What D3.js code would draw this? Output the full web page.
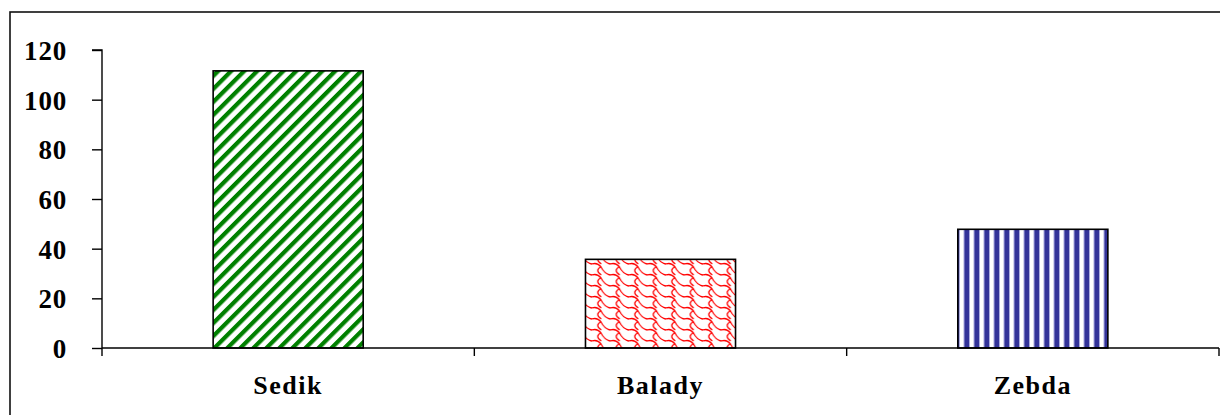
<!DOCTYPE html>
<html>
<head>
<meta charset="utf-8">
<script src="https://cdn.jsdelivr.net/npm/d3@7"></script>
<style>
html,body{margin:0;padding:0;background:#fff;overflow:hidden;}
svg{display:block;}
text{font-family:"Liberation Serif","Times New Roman",serif;font-weight:bold;fill:#000;}
</style>
</head>
<body>
<svg id="chart" width="1220" height="415"></svg>
<script>
const categories = ["Sedik", "Balady", "Zebda"];
const values = [111.6, 35.7, 47.8];
const patterns = ["pGreen", "pRed", "pBlue"];
const yTicks = [0, 20, 40, 60, 80, 100, 120];

const svg = d3.select("#chart");
const defs = svg.append("defs");

// green diagonal stripes
const pg = defs.append("pattern").attr("id","pGreen").attr("patternUnits","userSpaceOnUse")
  .attr("width",9.2).attr("height",9.2).attr("patternTransform","rotate(45)");
pg.append("rect").attr("width",9.2).attr("height",9.2).attr("fill","#fff");
pg.append("rect").attr("x",0).attr("width",4.2).attr("height",9.2).attr("fill","#008000");

// red shingle pattern
const PW = 18.5, PH = 11;
const pr = defs.append("pattern").attr("id","pRed").attr("patternUnits","userSpaceOnUse")
  .attr("width",PW).attr("height",PH);
pr.append("rect").attr("width",PW).attr("height",PH).attr("fill","#fff");
[[0,0],[PW,0],[-PW,0],[0,PH],[0,-PH],[PW,PH],[-PW,-PH],[PW,-PH],[-PW,PH]].forEach(([dx,dy]) => {
  pr.append("path")
    .attr("transform",`translate(${dx},${dy})`)
    .attr("d","M0,0 C4,-1.5 7,0.5 9,3 L10.5,5.5 C12.5,8.5 15.5,10.5 18.5,11 M9,3 C6,4 5,6.5 6.5,8.5 C7.5,9.5 8.5,10.5 9.2,11")
    .attr("fill","none").attr("stroke","#ff0000").attr("stroke-width",1.3);
});

// blue vertical stripes
const pb = defs.append("pattern").attr("id","pBlue").attr("patternUnits","userSpaceOnUse")
  .attr("width",10).attr("height",10).attr("x",2);
pb.append("rect").attr("width",10).attr("height",10).attr("fill","#fff");
pb.append("rect").attr("x",1.5).attr("width",6.5).attr("height",10).attr("fill","#aaaadd");
pb.append("rect").attr("x",2.5).attr("width",4.5).attr("height",10).attr("fill","#333399");

// outer frame
svg.append("rect").attr("x",10).attr("y",12).attr("width",1400).attr("height",600)
  .attr("fill","none").attr("stroke","#111").attr("stroke-width",1.6);

const x0 = 102, x1 = 1219, yBottom = 348, yTop = 50;
const x = d3.scaleBand().domain(categories).range([x0, x1]).paddingInner(0.597).paddingOuter(0.2985);
const xb = d3.scaleBand().domain(categories).range([x0, x1]);
const y = d3.scaleLinear().domain([0,120]).range([yBottom, yTop]);

// bars
svg.append("g").selectAll("rect").data(categories).join("rect")
  .attr("x", d => x(d))
  .attr("y", (d,i) => y(values[i]))
  .attr("width", x.bandwidth())
  .attr("height", (d,i) => y(0) - y(values[i]))
  .attr("fill", (d,i) => `url(#${patterns[i]})`)
  .attr("stroke","#000").attr("stroke-width",1.6);

// y axis
const yAxis = d3.axisLeft(y).tickValues(yTicks).tickSize(10).tickPadding(25).tickFormat(d3.format("d"));
const gy = svg.append("g").attr("transform",`translate(${x0},0)`).call(yAxis);
gy.attr("font-family",null).attr("font-size",null);
gy.select(".domain").attr("stroke","#000").attr("stroke-width",1.4).attr("d",`M-10,${yTop}H0V${yBottom}`);
gy.selectAll(".tick line").attr("stroke","#000").attr("stroke-width",1.4);
gy.selectAll(".tick text").style("font-size","27px").attr("letter-spacing","0.8px").attr("dy","0.35em")
  .style("font-family","'Liberation Serif',serif").style("font-weight","bold");

// x axis
const gx = svg.append("g").attr("transform",`translate(0,${yBottom})`);
gx.append("line").attr("x1",x0).attr("x2",x1).attr("stroke","#000").attr("stroke-width",1.4);
const bounds = [x0].concat(categories.map(c => xb(c) + xb.bandwidth()));
gx.selectAll(".bt").data(bounds).join("line").attr("class","bt")
  .attr("x1",d=>d).attr("x2",d=>d).attr("y1",0).attr("y2",8)
  .attr("stroke","#000").attr("stroke-width",1.4);
gx.selectAll(".cl").data(categories).join("text").attr("class","cl")
  .attr("x", d => xb(d) + xb.bandwidth()/2).attr("y", 46)
  .attr("text-anchor","middle").style("font-size","26px").attr("letter-spacing","1.5px")
  .text(d => d);
</script>
</body>
</html>
